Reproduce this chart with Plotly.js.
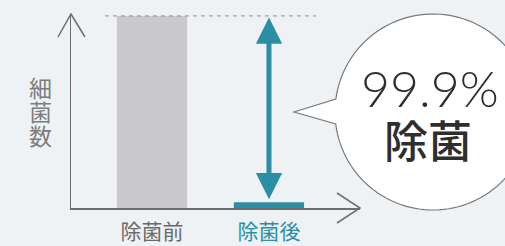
<!DOCTYPE html>
<html>
<head>
<meta charset="utf-8">
<script src="https://cdn.plot.ly/plotly-3.0.1.min.js"></script>
<style>
html,body{margin:0;padding:0;background:#eef2f5;}
#chart{width:505px;height:246px;}
</style>
</head>
<body>
<div id="chart"></div>
<script>
// ---- data ----
const categories = ["除菌前", "除菌後"];
const bacteriaCount = [100, 3];          // relative bacteria count (visual)
const reductionLabel = "99.9%";
const reductionWord = "除菌";
const yAxisLabelChars = ["細", "菌", "数"];

// ---- styling / layout helpers ----
const W = 505, H = 246;
const M = {l: 71, r: 145, t: 14, b: 38};
const PW = W - M.l - M.r, PH = H - M.t - M.b;
const px = v => (v - M.l) / PW;             // pixel x -> paper
const py = v => (H - M.b - v) / PH;         // pixel y -> paper

const grey = "#c8c8cd", teal = "#2a8ea5", axisCol = "#6e6e6e";
const tickColors = ["#6a6a6a", teal];

// speech bubble outline (decoration)
function bubblePath() {
  const cx = 433, cy = 112, r = 98;
  const a0 = Math.PI + Math.asin(13 / r);
  const a1 = 3 * Math.PI - Math.asin(12 / r);
  const n = 120;
  let d = "";
  for (let i = 0; i <= n; i++) {
    const a = a0 + (a1 - a0) * i / n;
    const x = cx + r * Math.cos(a), y = cy + r * Math.sin(a);
    d += (i === 0 ? "M" : "L") + px(x).toFixed(5) + "," + py(y).toFixed(5);
  }
  d += "L" + px(294).toFixed(5) + "," + py(112).toFixed(5) + "Z";
  return d;
}

const trace = {
  type: "bar",
  x: categories,
  y: bacteriaCount,
  width: 0.6,
  marker: {color: [grey, teal], line: {width: 0}},
  hoverinfo: "skip"
};

const cjk = "'Noto Sans CJK JP', 'Noto Sans', sans-serif";

const annotations = [
  // double-headed reduction arrow from before-level to after-level
  {
    x: 1, y: bacteriaCount[1], ax: 1, ay: bacteriaCount[0],
    xref: "x", yref: "y", axref: "x", ayref: "y",
    text: "", showarrow: true,
    arrowhead: 2, startarrowhead: 2, arrowside: "end+start",
    arrowwidth: 5, arrowsize: 1.05, startarrowsize: 1.05,
    arrowcolor: teal, standoff: 3, startstandoff: 0
  },
  {
    x: px(430), y: py(88), xref: "paper", yref: "paper",
    xanchor: "center", yanchor: "middle",
    text: reductionLabel, showarrow: false,
    font: {family: "Lato, 'Open Sans', sans-serif", size: 50, color: "#2e2e2e", weight: 300}
  },
  {
    x: px(428), y: py(139), xref: "paper", yref: "paper",
    xanchor: "center", yanchor: "middle",
    text: reductionWord, showarrow: false,
    font: {family: cjk, size: 44, color: "#2e2e2e", weight: 500}
  }
];
yAxisLabelChars.forEach((c, i) => {
  annotations.push({
    x: px(40), y: py(87 + 24 * i), xref: "paper", yref: "paper",
    xanchor: "center", yanchor: "middle",
    text: c, showarrow: false,
    font: {family: cjk, size: 23, color: "#7c7c7c"}
  });
});

const shapes = [
  // dashed reference line at "before" level
  {
    type: "line", xref: "paper", yref: "y",
    x0: px(105), x1: px(316), y0: bacteriaCount[0], y1: bacteriaCount[0],
    line: {color: "#8c8c8c", width: 1, dash: "4px,4px"}, layer: "above"
  },
  // y-axis arrow head
  {
    type: "path", xref: "paper", yref: "paper",
    path: `M${px(58)},${py(37)}L${px(71)},${py(14)}L${px(85)},${py(37)}`,
    line: {color: axisCol, width: 1.5}
  },
  // x-axis arrow head
  {
    type: "path", xref: "paper", yref: "paper",
    path: `M${px(337)},${py(193)}L${px(360)},${py(208)}L${px(337)},${py(223)}`,
    line: {color: axisCol, width: 1.5}
  },
  // speech bubble
  {
    type: "path", xref: "paper", yref: "paper",
    path: bubblePath(),
    fillcolor: "#ffffff", line: {color: "#7a7a7a", width: 1.2}, layer: "below"
  }
];

const layout = {
  width: W, height: H,
  margin: M,
  paper_bgcolor: "#eef2f5",
  plot_bgcolor: "rgba(0,0,0,0)",
  showlegend: false,
  xaxis: {
    type: "category",
    range: [-0.692, 1.778],
    showline: true, linecolor: axisCol, linewidth: 1.5,
    showgrid: false, zeroline: false, ticks: "",
    tickvals: categories,
    ticktext: categories.map((c, i) => `<span style="color:${tickColors[i]}">${c}</span>`),
    tickfont: {family: cjk, size: 21},
    ticklabelstandoff: 4,
    fixedrange: true
  },
  yaxis: {
    range: [0, 101],
    showline: true, linecolor: axisCol, linewidth: 1.5,
    showgrid: false, zeroline: false, showticklabels: false, ticks: "",
    fixedrange: true
  },
  shapes: shapes,
  annotations: annotations
};

Plotly.newPlot("chart", [trace], layout, {staticPlot: true, displayModeBar: false});
</script>
</body>
</html>
